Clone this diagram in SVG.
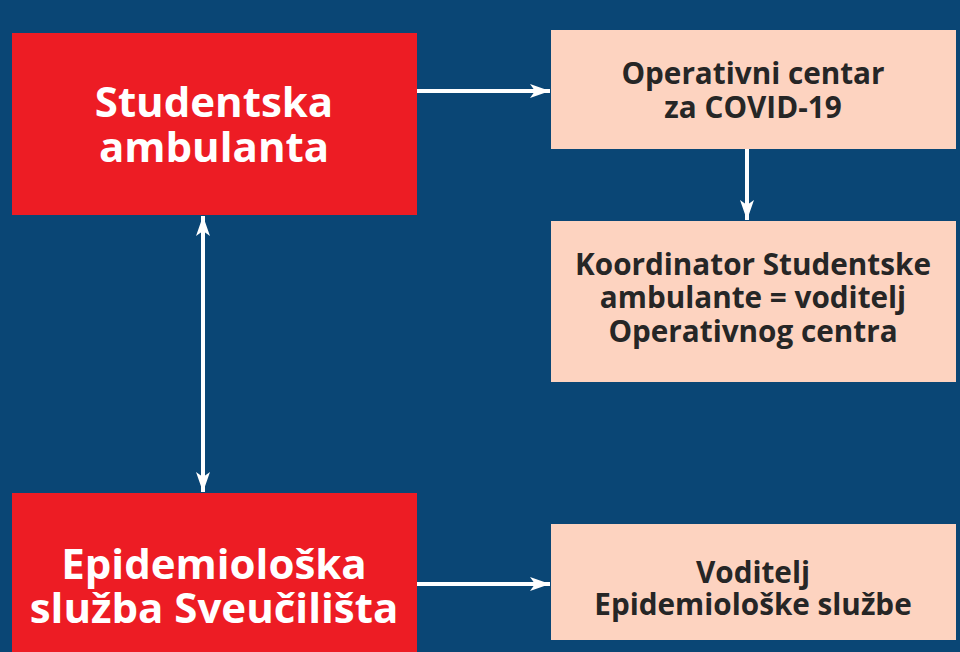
<svg xmlns="http://www.w3.org/2000/svg" width="960" height="652" viewBox="0 0 960 652">
<defs>
<style>
.red{fill:#ed1c24}
.peach{fill:#fdd3c0}
.tw{font-family:"Open Sans",Lato,"Liberation Sans",sans-serif;font-weight:700;fill:#ffffff;text-anchor:middle;font-size:42px}
.td{font-family:"Open Sans",Lato,"Liberation Sans",sans-serif;font-weight:700;fill:#262626;text-anchor:middle;font-size:29.7px}
.conn{stroke:#ffffff;stroke-width:4;fill:none}
</style>
<marker id="ah" markerWidth="20" markerHeight="14" refX="20" refY="7" orient="auto-start-reverse" markerUnits="userSpaceOnUse">
<path d="M0,0 L20,7 L0,14 L5,7 Z" fill="#ffffff"/>
</marker>
</defs>
<rect width="960" height="652" fill="#0a4675"/>
<g id="connectors">
<line class="conn" x1="417" y1="91" x2="550" y2="91" marker-end="url(#ah)"/>
<line class="conn" x1="747" y1="149" x2="747" y2="220" marker-end="url(#ah)"/>
<line class="conn" x1="203" y1="216" x2="203" y2="492" marker-start="url(#ah)" marker-end="url(#ah)"/>
<line class="conn" x1="417" y1="584" x2="550" y2="584" marker-end="url(#ah)"/>
</g>
<g id="studentska">
<rect class="red" x="12" y="33" width="405" height="182"/>
<text class="tw" x="214" y="117">Studentska</text>
<text class="tw" x="214" y="162">ambulanta</text>
</g>
<g id="operativni">
<rect class="peach" x="551" y="30" width="405" height="119"/>
<text class="td" x="753" y="84">Operativni centar</text>
<text class="td" x="753" y="118">za COVID-19</text>
</g>
<g id="koordinator">
<rect class="peach" x="551" y="221" width="405" height="161"/>
<text class="td" x="753" y="275">Koordinator Studentske</text>
<text class="td" x="753" y="308">ambulante = voditelj</text>
<text class="td" x="753" y="342">Operativnog centra</text>
</g>
<g id="epidemioloska">
<rect class="red" x="12" y="493" width="405" height="159"/>
<text class="tw" x="214" y="579">Epidemiološka</text>
<text class="tw" x="214" y="623">služba Sveučilišta</text>
</g>
<g id="voditelj">
<rect class="peach" x="551" y="524" width="405" height="116"/>
<text class="td" x="753" y="583">Voditelj</text>
<text class="td" x="753" y="615">Epidemiološke službe</text>
</g>
</svg>
